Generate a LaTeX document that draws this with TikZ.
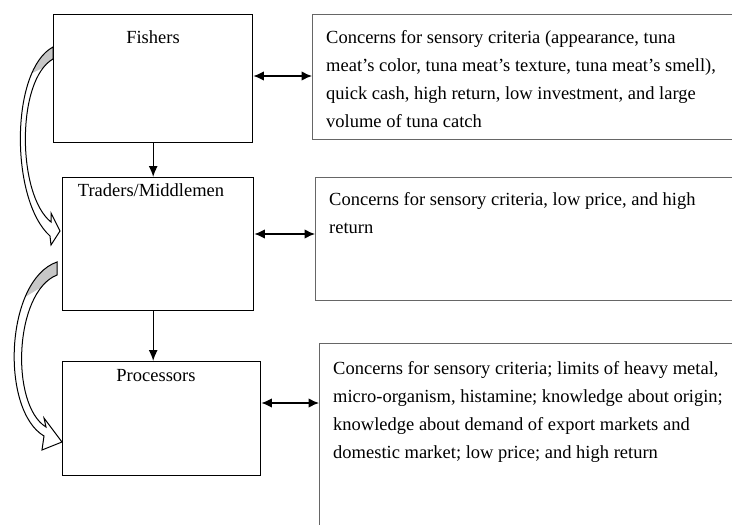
\documentclass[tikz,border=0pt]{standalone}
\usepackage{fontspec}
\setmainfont{Liberation Serif}
\usetikzlibrary{arrows.meta,calc}
\tikzset{
  pbox/.style={draw=black, line width=1.4pt, anchor=north west, inner sep=0pt},
  cbox/.style={draw=black!60, line width=1pt, anchor=north west, inner sep=0pt},
  lbl/.style={font=\fontsize{18.5}{28}\selectfont, anchor=base, inner sep=0pt},
  txt/.style={font=\fontsize{18.5}{28}\selectfont, anchor=north west, inner sep=0pt, align=left},
  darr/.style={line width=1.3pt, {Latex[length=10.5pt,width=9.5pt]}-{Latex[length=10.5pt,width=9.5pt]}},
  varr/.style={line width=1.3pt, -{Latex[length=11pt,width=9pt]}},
  barr/.style={line width=1pt, line join=miter},
}
\begin{document}
\begin{tikzpicture}[x=1pt,y=-1pt]
\useasboundingbox (0,0) rectangle (732,525);
\clip (0,0) rectangle (732,525);

% curved block arrow 1
\def\arrowA{(53,47) .. controls (10,70) and (10,200) .. (50,236) -- (51,245) -- (60,231) -- (51,213) -- (51,222) .. controls (17,195) and (16,80) .. (53,59) -- cycle}
\fill[white] \arrowA;
\begin{scope}
  \clip (0,40) -- (60,40) -- (60,60) -- (0,88) -- cycle;
  \fill[black!22] \arrowA;
\end{scope}
\draw[barr] \arrowA;

% curved block arrow 2
\def\arrowB{(57,262) .. controls (5,280) and (0,410) .. (44,436) -- (42,450) -- (62,442) -- (44,418) -- (46,427) .. controls (10,405) and (14,292) .. (57,275) -- cycle}
\fill[white] \arrowB;
\begin{scope}
  \clip (0,255) -- (60,255) -- (60,276) -- (0,312) -- cycle;
  \fill[black!22] \arrowB;
\end{scope}
\draw[barr] \arrowB;

% actor boxes
\node[pbox, minimum width=199pt, minimum height=128pt] (f) at (53,14) {};
\node[pbox, minimum width=191pt, minimum height=133pt] (t) at (62,177) {};
\node[pbox, minimum width=198pt, minimum height=114pt] (p) at (62,361) {};
\node[lbl] (fl) at (153,43) {Fishers};
\node[lbl] (tl) at (151,196) {Traders/Middlemen};
\node[lbl] (pl) at (156,381) {Processors};

% concern boxes
\node[cbox, minimum width=433pt, minimum height=125pt] (c1) at (312,14) {};
\node[cbox, minimum width=430pt, minimum height=123pt] (c2) at (315,177) {};
\node[cbox, minimum width=426pt, minimum height=200pt] (c3) at (319,343) {};

\node[txt] (t1) at (326,23.4) {\strut Concerns for sensory criteria (appearance, tuna\\
meat’s color, tuna meat’s texture, tuna meat’s smell),\\
quick cash, high return, low investment, and large\\
volume of tuna catch};
\node[txt] (t2) at (329,185.4) {\strut Concerns for sensory criteria, low price, and high\\
return};
\node[txt] (t3) at (333,354.4) {\strut Concerns for sensory criteria; limits of heavy metal,\\
micro-organism, histamine; knowledge about origin;\\
knowledge about demand of export markets and\\
domestic market; low price; and high return};

% connectors
\draw[varr] (f.south) -- (f.south |- t.north);
\draw[varr] (t.south -| f.south) -- (f.south |- p.north);
\coordinate (y1) at (0,76);
\coordinate (y2) at (0,234);
\coordinate (y3) at (0,403);
\draw[darr] (f.east |- y1) -- (c1.west |- y1);
\draw[darr] (t.east |- y2) -- (c2.west |- y2);
\draw[darr] (p.east |- y3) -- (c3.west |- y3);
\end{tikzpicture}
\end{document}
